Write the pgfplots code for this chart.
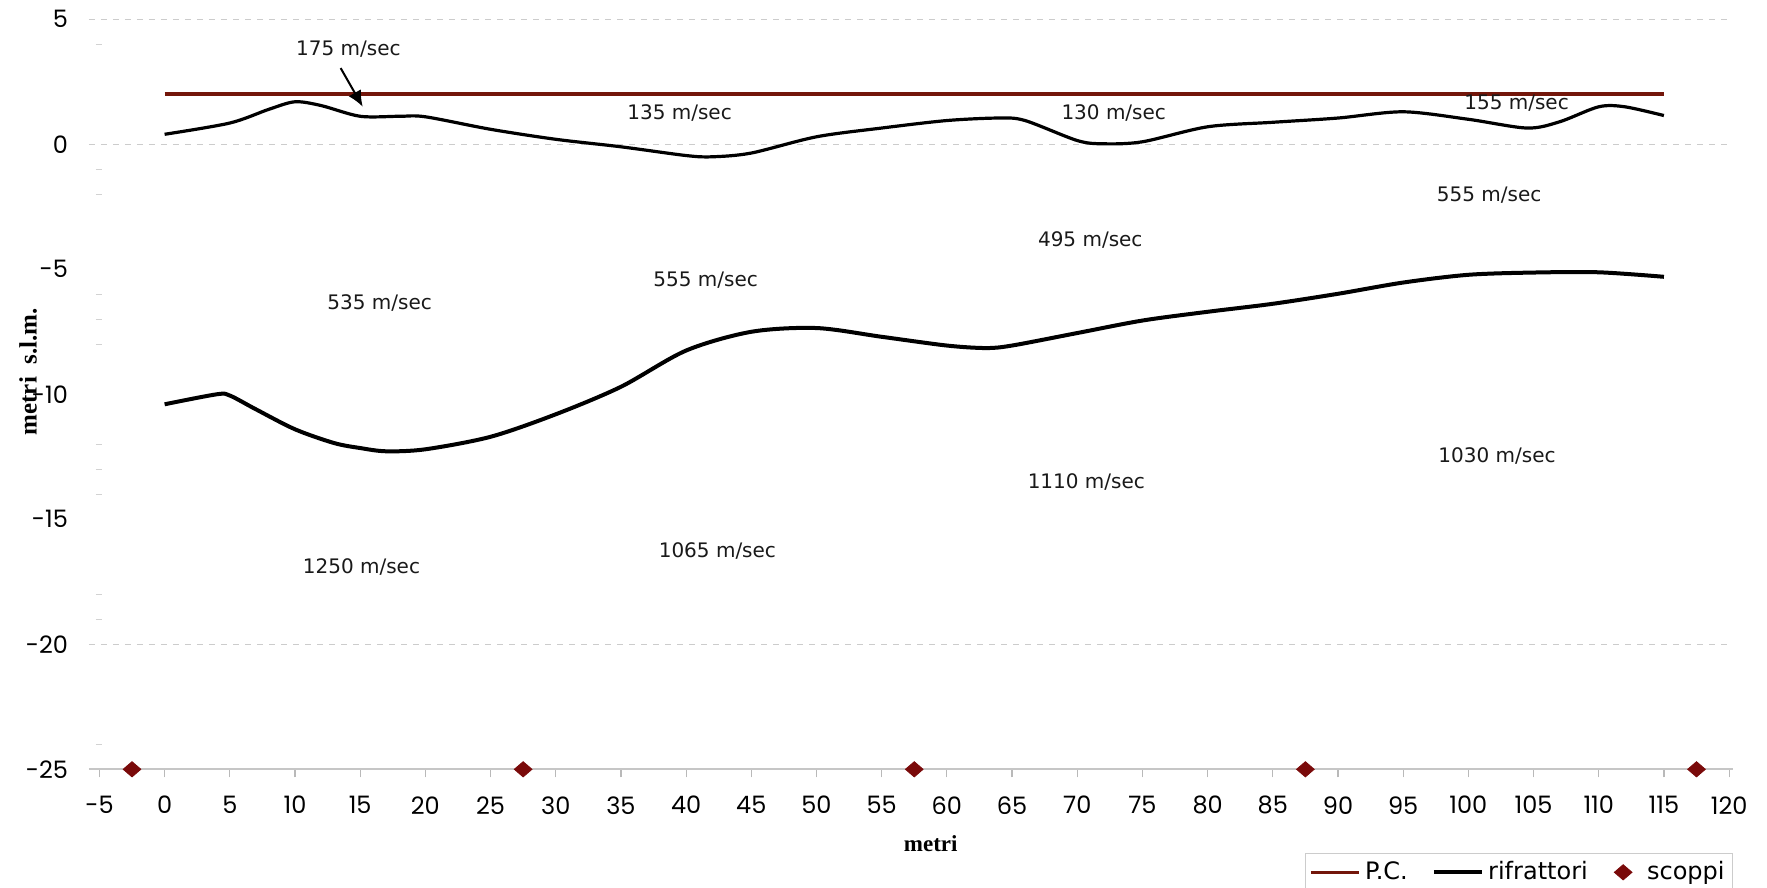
\documentclass[border=0pt]{standalone}
\usepackage{pgfplots}
\pgfplotsset{compat=1.18}
\usepackage{fontspec}
\setmainfont{DejaVu Sans}
\newfontfamily\tickfont{Poppins}
\newfontfamily\titlefont{Liberation Serif}
\usetikzlibrary{arrows.meta}
\definecolor{pcred}{RGB}{115,22,10}
\definecolor{scred}{RGB}{122,10,10}
\definecolor{surf}{RGB}{45,50,58}
\pgfplotsset{
  linelegend/.style={legend image code/.code={\draw[##1] (0cm,0cm) -- (0.85cm,0cm);}},
  marklegend/.style={legend image code/.code={\path[draw=none, fill=none] (0cm,0cm) -- (0.55cm,0cm); \draw[##1] plot coordinates {(0.2cm,0cm)};}},
}
\begin{document}
\begin{tikzpicture}
\begin{axis}[
  scale only axis, width=822pt, height=375pt,
  xmin=-5.8, xmax=120.3, ymin=-25, ymax=5,
  xtick={-5,0,...,120}, ytick={-25,-20,...,5},
  clip=false,
  axis x line*=bottom, axis y line*=left,
  y axis line style={draw=none},
  x axis line style={draw=gray!45, line width=0.8pt},
  x tick style={draw=gray!55, line width=0.6pt},
  tick align=outside, major tick length=4pt,
  every major y tick/.style={draw=none},
  minor ytick={4,-1,-2,-6,-7,-8,-12,-13,-14,-18,-19,-24},
  every minor y tick/.style={draw=gray!35, line width=0.6pt, xshift=6.5pt},
  minor tick length=3pt,
  extra y ticks={5,0,-20}, extra y tick labels={},
  extra y tick style={grid=major},
  major grid style={dashed, gray!40, line width=0.6pt},
  /pgf/number format/assume math mode=true,
  tick label style={font=\tickfont\fontsize{12}{13}\selectfont, text=black},
  xticklabel shift=6pt, yticklabel shift=3pt,
  xlabel={metri}, ylabel={metri\ \ s.l.m.},
  xlabel style={font=\titlefont\bfseries\fontsize{11.5}{13}\selectfont, at={(axis description cs:0.512,-0.0987)}, anchor=center},
  ylabel style={font=\titlefont\bfseries\fontsize{12.5}{13}\selectfont, at={(axis description cs:-0.0371,0.53)}, anchor=center},
  legend style={at={(axis description cs:1,-0.112)}, anchor=north east, draw=gray!40, legend columns=3,
    font=\fontsize{12}{14}\selectfont, inner sep=2pt,
    /tikz/every even column/.append style={column sep=10pt}},
]
\addplot[pcred, line width=1.8pt, linelegend] coordinates {(0,2) (115,2)};
\addlegendentry{P.C.}
\addplot[surf, line width=1.6pt, smooth, forget plot] coordinates {
(0,0.4) (5,0.85) (8,1.4) (10,1.7) (12,1.55) (15,1.12) (18,1.12) (20,1.1) (25,0.6) (30,0.2) (35,-0.1) (40,-0.45) (42,-0.5) (45,-0.35) (50,0.3) (55,0.65) (60,0.95) (64,1.05) (66,0.95) (70,0.15) (72,0.02) (75,0.1) (80,0.7) (85,0.88) (90,1.05) (95,1.3) (100,1.0) (104.5,0.65) (107,0.9) (110,1.5) (112,1.5) (115,1.15)};
\addplot[black, line width=2pt, smooth, linelegend] coordinates {
(0,-10.4) (4,-10.0) (5,-10.05) (7,-10.6) (10,-11.4) (13,-11.95) (15,-12.15) (17,-12.28) (20,-12.2) (25,-11.7) (30,-10.8) (35,-9.7) (40,-8.25) (45,-7.5) (50,-7.35) (55,-7.7) (60,-8.05) (63,-8.15) (65,-8.05) (70,-7.55) (75,-7.05) (80,-6.7) (85,-6.38) (90,-5.98) (95,-5.53) (100,-5.22) (105,-5.13) (110,-5.12) (115,-5.3)};
\addlegendentry{rifrattori}
\addplot[only marks, mark=diamond*, mark size=3.8pt, mark options={xscale=1.55, fill=scred, draw=scred}, marklegend] coordinates {
(-2.5,-25) (27.5,-25) (57.5,-25) (87.5,-25) (117.5,-25)};
\addlegendentry{scoppi}
\begin{scope}[every node/.style={font=\fontsize{10}{12}\selectfont, text=black!90}]
\node at (axis cs:14.1,3.8) {175 m/sec};
\node at (axis cs:39.5,1.26) {135 m/sec};
\node at (axis cs:72.8,1.26) {130 m/sec};
\node at (axis cs:103.7,1.66) {155 m/sec};
\node at (axis cs:101.6,-2.02) {555 m/sec};
\node at (axis cs:71,-3.82) {495 m/sec};
\node at (axis cs:41.5,-5.44) {555 m/sec};
\node at (axis cs:16.5,-6.34) {535 m/sec};
\node at (axis cs:102.2,-12.46) {1030 m/sec};
\node at (axis cs:70.7,-13.49) {1110 m/sec};
\node at (axis cs:42.4,-16.28) {1065 m/sec};
\node at (axis cs:15.1,-16.9) {1250 m/sec};
\end{scope}
\draw[black, line width=1pt, -{Latex[length=8pt,width=7pt]}] (axis cs:13.5,3.05) -- (axis cs:15.2,1.5);
\end{axis}
\pgfresetboundingbox
\path (-44.5pt,-59.35pt) rectangle (839pt,384.65pt);
\end{tikzpicture}
\end{document}
